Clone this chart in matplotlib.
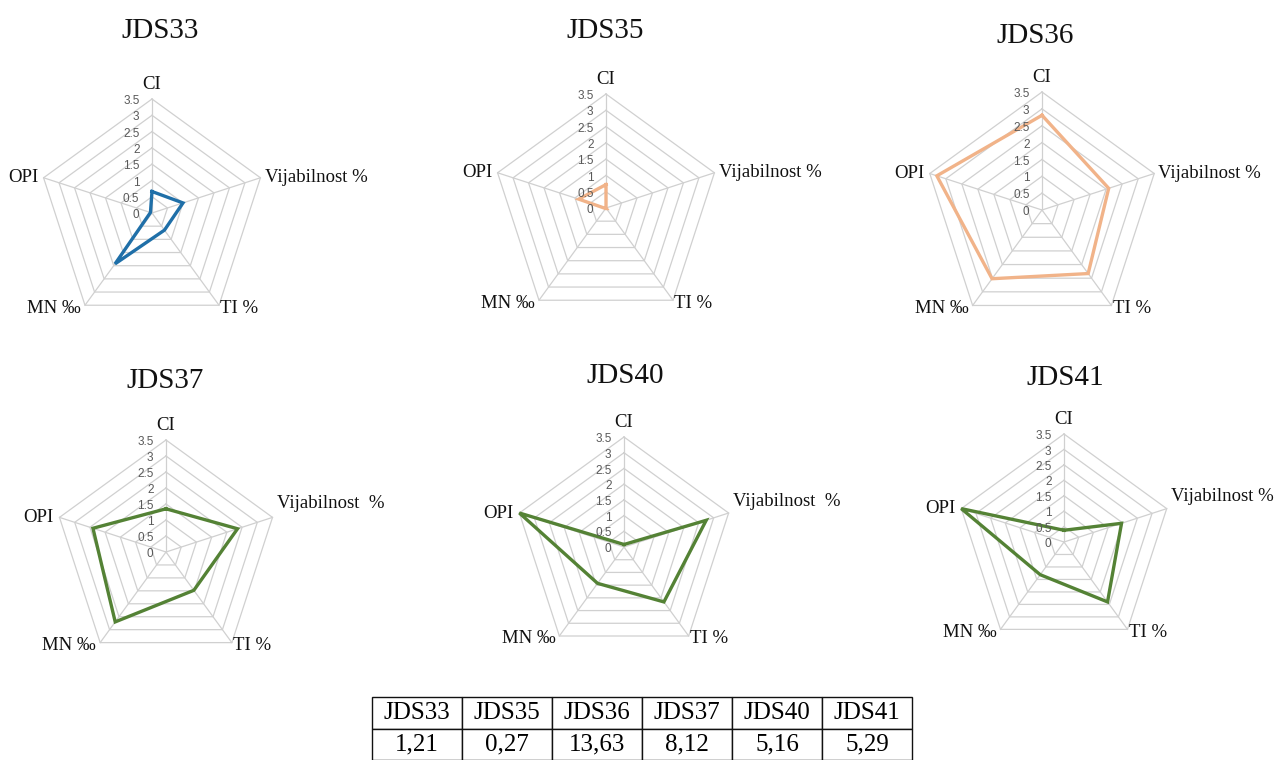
import numpy as np
import matplotlib.pyplot as plt

# data
categories = ['CI', 'Vijabilnost %', 'TI %', 'MN ‰', 'OPI']
samples = ['JDS33', 'JDS35', 'JDS36', 'JDS37', 'JDS40', 'JDS41']
jds33 = [0.66, 1.0, 0.65, 1.93, 0.05]
jds35 = [0.72, 0.0, 0.02, 0.02, 0.88]
jds36 = [2.81, 2.08, 2.33, 2.52, 3.28]
jds37 = [1.35, 2.35, 1.48, 2.70, 2.40]
jds40 = [0.08, 2.75, 2.16, 1.43, 3.50]
jds41 = [0.38, 1.96, 2.40, 1.31, 3.50]
table_values = ['1,21', '0,27', '13,63', '8,12', '5,16', '5,29']
ticks = [0, 0.5, 1, 1.5, 2, 2.5, 3, 3.5]

W, H = 1277, 760
fig = plt.figure(figsize=(W / 100, H / 100), dpi=100)

SERIF = 'Liberation Serif'
SANS = 'Liberation Sans'
GRID = '#d0d0d0'
BLUE = '#1f6fa8'
ORANGE = '#f1b389'
GREEN = '#548235'

# spokes clockwise starting at the top
angles = np.pi / 2 - 2 * np.pi * np.arange(len(categories)) / len(categories)
rmax = ticks[-1]


def radar(cx, cy, R, values, color, title, tx, ty, vij_text, vij_dy):
    half = 165
    ax = fig.add_axes([(cx - half) / W, 1 - (cy + half) / H, 2 * half / W, 2 * half / H])
    L = rmax * half / R
    ax.set_xlim(-L, L)
    ax.set_ylim(-L, L)
    ax.set_aspect('equal')
    ax.axis('off')

    ca = np.append(np.cos(angles), np.cos(angles[0]))
    sa = np.append(np.sin(angles), np.sin(angles[0]))

    # pentagon rings + spokes
    for t in ticks[1:]:
        ax.plot(t * ca, t * sa, color=GRID, lw=0.9, zorder=1)
    for a in angles:
        ax.plot([0, rmax * np.cos(a)], [0, rmax * np.sin(a)], color=GRID, lw=0.9, zorder=1)

    # series
    v = np.append(values, values[0])
    ax.plot(v * ca, v * sa, color=color, lw=2.4, zorder=3, solid_joinstyle='miter')

    # radial tick labels
    for t in ticks:
        ax.annotate(f'{t:g}', (0, t), xytext=(-9, -1.5), textcoords='offset points',
                    ha='right', va='center', fontsize=8.5, color='#595959', family=SANS)

    # category labels
    labels = list(categories)
    labels[1] = vij_text
    offs = [((0, 7), 'center', 'baseline'),
            ((3, vij_dy), 'left', 'center'),
            ((1, -2), 'left', 'center'),
            ((-3, -2), 'right', 'center'),
            ((-4, 0), 'right', 'center')]
    for lab, a, (xy, ha, va) in zip(labels, angles, offs):
        ax.annotate(lab, (rmax * np.cos(a), rmax * np.sin(a)), xytext=xy,
                    textcoords='offset points', ha=ha, va=va,
                    fontsize=13.5, family=SERIF, color='#111111')

    fig.text(tx / W, 1 - ty / H, title, ha='center', va='center',
             fontsize=21, family=SERIF, color='#111111')


radar(152, 213, 114, jds33, BLUE, samples[0], 160, 31, 'Vijabilnost %', 0)
radar(606, 208, 114, jds35, ORANGE, samples[1], 605, 31, 'Vijabilnost %', 0)
radar(1042, 210, 118, jds36, ORANGE, samples[2], 1035, 36, 'Vijabilnost %', 0)
radar(166, 552, 112, jds37, GREEN, samples[3], 165, 381, 'Vijabilnost  %', 10)
radar(624, 547, 110, jds40, GREEN, samples[4], 625, 376, 'Vijabilnost  %', 8)
radar(1064, 542, 108, jds41, GREEN, samples[5], 1065, 378, 'Vijabilnost %', 9)

# summary table
tax = fig.add_axes([372 / W, 0, (912 - 372) / W, (760 - 697) / H])
tax.axis('off')
tbl = tax.table(cellText=[samples, table_values], cellLoc='center', bbox=[0, 0, 1, 1])
tbl.auto_set_font_size(False)
for cell in tbl.get_celld().values():
    cell.set_edgecolor('#111111')
    cell.set_linewidth(1.0)
    cell.get_text().set_fontsize(18)
    cell.get_text().set_fontfamily(SERIF)

fig.savefig('out.png', dpi=100)
